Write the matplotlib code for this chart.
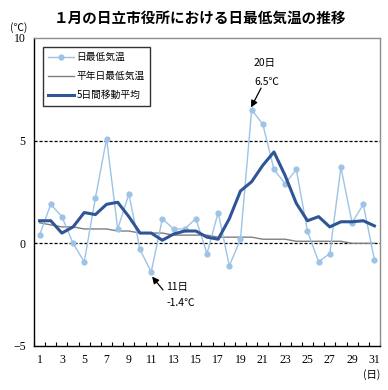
import matplotlib
matplotlib.use("Agg")
import matplotlib.pyplot as plt
import numpy as np

plt.rcParams['font.family'] = ['Noto Sans CJK JP', 'DejaVu Sans']

days = list(range(1, 32))
daily_min = [0.4, 1.9, 1.3, 0.0, -0.9, 2.2, 5.1, 0.7, 2.4, -0.3,
             -1.4, 1.2, 0.7, 0.7, 1.2, -0.5, 1.5, -1.1, 0.2, 6.5,
             5.8, 3.6, 2.9, 3.6, 0.6, -0.9, -0.5, 3.7, 1.0, 1.9, -0.8]
normal_min = [1.0, 0.9, 0.8, 0.8, 0.7, 0.7, 0.7, 0.6, 0.6, 0.5,
              0.5, 0.5, 0.4, 0.4, 0.4, 0.4, 0.3, 0.3, 0.3, 0.3,
              0.2, 0.2, 0.2, 0.1, 0.1, 0.1, 0.1, 0.1, 0.0, 0.0, 0.0]
moving_avg = [1.1, 1.1, 0.5, 0.8, 1.5, 1.4, 1.9, 2.0, 1.3, 0.5,
              0.5, 0.15, 0.45, 0.6, 0.6, 0.3, 0.2, 1.2, 2.55, 3.0,
              3.8, 4.45, 3.3, 1.95, 1.1, 1.3, 0.8, 1.05, 1.05, 1.1, 0.85]
series_names = ['日最低気温', '平年日最低気温', '5日間移動平均']
title = '１月の日立市役所における日最低気温の推移'

fig = plt.figure(figsize=(3.88, 3.90), dpi=100)
ax = fig.add_axes([34/388, 1-346/390, (380-34)/388, (346-38)/390])

ax.plot(days, daily_min, color='#9DC3E6', lw=1.0, marker='o', ms=4.5,
        markeredgewidth=0, label=series_names[0], zorder=3)
ax.plot(days, normal_min, color='#7F7F7F', lw=1.0, label=series_names[1], zorder=2)
ax.plot(days, moving_avg, color='#2F5597', lw=2.2, label=series_names[2], zorder=4)

ax.set_xlim(0.5, 31.5)
ax.set_ylim(-5, 10)
for yv in (0, 5):
    ax.axhline(yv, color='black', lw=0.9, ls=(0, (2.5, 1.5)), zorder=1)

ax.set_xticks(range(1, 32, 2))
ax.set_xticks(np.arange(0.5, 32, 1), minor=True)
ax.tick_params(axis='x', which='major', length=0, pad=6)
ax.tick_params(axis='x', which='minor', direction='in', length=3, width=0.8)
ax.set_yticks([-5, 0, 5, 10])
ax.tick_params(axis='y', length=0, pad=6)
for lab in ax.get_xticklabels() + ax.get_yticklabels():
    lab.set_fontfamily('Liberation Serif')
    lab.set_fontsize(8.5)

ax.spines['left'].set_color('black')
ax.spines['bottom'].set_color('black')
ax.spines['top'].set_color('#8C8C8C')
ax.spines['right'].set_color('#8C8C8C')
for s in ax.spines.values():
    s.set_linewidth(1.0)

fig.text(200/388, 1-18/390, title, ha='center', va='center',
         fontsize=10.5, fontweight='bold')
fig.text(10/388, 1-28/390, '(℃)', ha='left', va='center', fontsize=7.5)
fig.text(372/388, 1-375/390, '(日)', ha='center', va='center', fontsize=7.5)

leg = ax.legend(loc='upper left', bbox_to_anchor=(0.012, 0.988), fontsize=7,
                frameon=True, fancybox=False, edgecolor='black',
                handlelength=2.6, borderpad=0.55, labelspacing=0.95,
                handletextpad=0.3)
leg.get_frame().set_linewidth(1.0)

# annotation for max
ax.text(21.2, 8.78, '20日', ha='center', va='center', fontsize=7.5)
ax.text(21.4, 7.87, '6.5℃', ha='center', va='center', fontsize=7.5)
ax.annotate('', xy=(19.95, 6.62), xytext=(20.84, 7.56),
            arrowprops=dict(arrowstyle='-|>', color='black', lw=0.9,
                            shrinkA=0, shrinkB=0, mutation_scale=10))
# annotation for min
ax.text(13.27, -2.13, '11日', ha='center', va='center', fontsize=7.5)
ax.text(13.67, -2.91, '-1.4℃', ha='center', va='center', fontsize=7.5)
ax.annotate('', xy=(11.08, -1.62), xytext=(12.06, -2.27),
            arrowprops=dict(arrowstyle='-|>', color='black', lw=0.9,
                            shrinkA=0, shrinkB=0, mutation_scale=10))

fig.savefig('out.png', dpi=100)
